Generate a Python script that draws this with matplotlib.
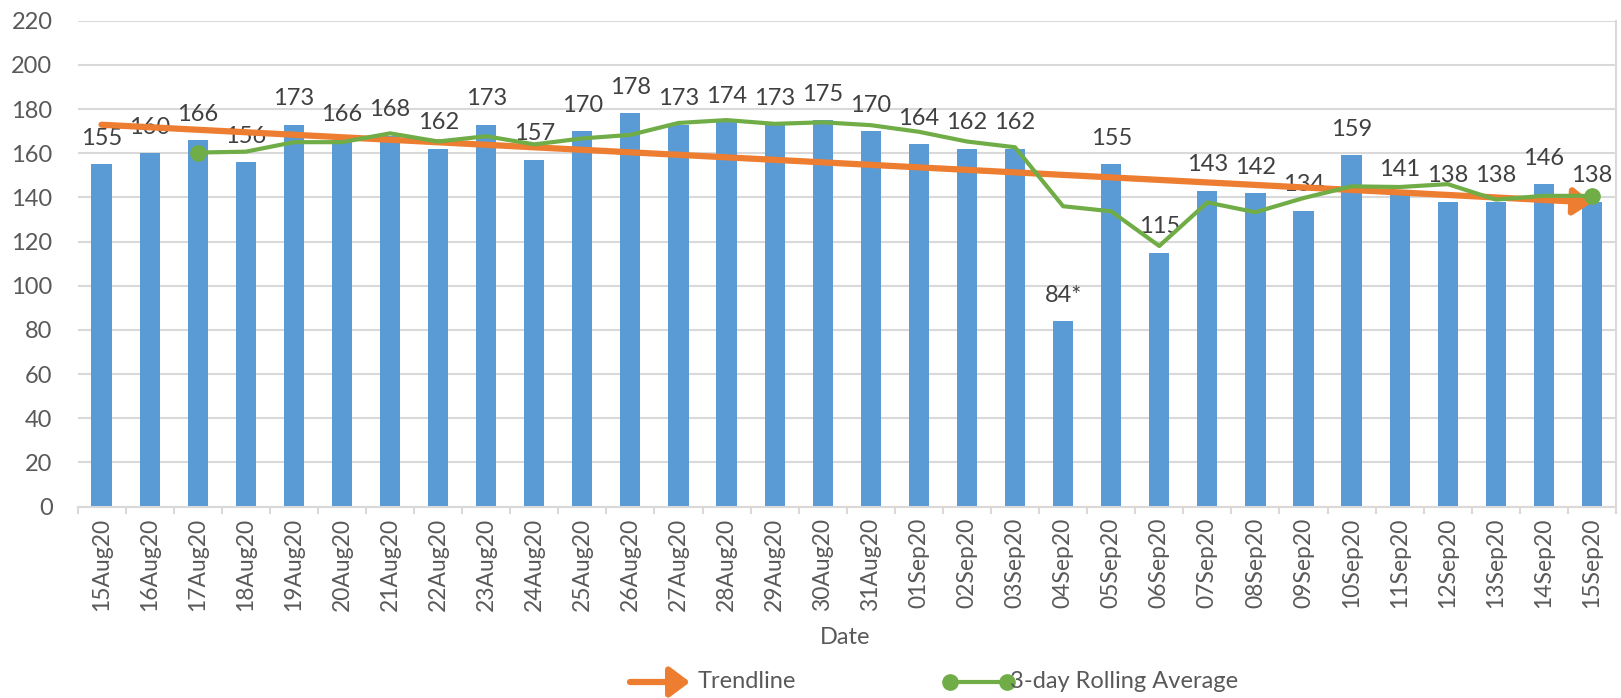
import matplotlib
matplotlib.use("Agg")
import matplotlib.pyplot as plt
from matplotlib.lines import Line2D
import numpy as np

dates = ["15Aug20", "16Aug20", "17Aug20", "18Aug20", "19Aug20", "20Aug20", "21Aug20",
         "22Aug20", "23Aug20", "24Aug20", "25Aug20", "26Aug20", "27Aug20", "28Aug20",
         "29Aug20", "30Aug20", "31Aug20", "01Sep20", "02Sep20", "03Sep20", "04Sep20",
         "05Sep20", "06Sep20", "07Sep20", "08Sep20", "09Sep20", "10Sep20", "11Sep20",
         "12Sep20", "13Sep20", "14Sep20", "15Sep20"]
values = [155, 160, 166, 156, 173, 166, 168, 162, 173, 157, 170, 178, 173, 174, 173, 175,
          170, 164, 162, 162, 84, 155, 115, 143, 142, 134, 159, 141, 138, 138, 146, 138]
value_labels = ["155", "160", "166", "156", "173", "166", "168", "162", "173", "157", "170",
                "178", "173", "174", "173", "175", "170", "164", "162", "162", "84*", "155",
                "115", "143", "142", "134", "159", "141", "138", "138", "146", "138"]
rolling_avg = [np.nan, np.nan, 160.3, 160.7, 165.0, 165.0, 169.0, 165.3, 167.7, 164.0, 166.7,
               168.3, 173.7, 175.0, 173.3, 174.0, 172.7, 169.7, 165.3, 162.7, 136.0, 133.7,
               118.0, 137.7, 133.3, 139.7, 145.0, 144.7, 146.0, 139.0, 140.7, 140.7]
trend_start = 172.9
trend_end = 137.7
y_ticks = [0, 20, 40, 60, 80, 100, 120, 140, 160, 180, 200, 220]

BLUE = "#5B9BD5"
ORANGE = "#ED7D31"
GREEN = "#70AD47"
TXT = "#404040"
AX = "#595959"
GRID = "#D9D9D9"
FS = 17

plt.rcParams['font.family'] = ['Lato', 'DejaVu Sans']

W, H = 1621, 698
fig = plt.figure(figsize=(W / 100, H / 100), dpi=100)
L, R, T, B = 77.5, 1616, 20.7, 506.6
ax = fig.add_axes([L / W, 1 - B / H, (R - L) / W, (B - T) / H])

x = np.arange(len(dates))
ax.bar(x, values, width=0.42, color=BLUE, zorder=2)

ax.set_xlim(-0.5, len(dates) - 0.5)
ax.set_ylim(0, 220)
ax.set_yticks(y_ticks)
ax.set_yticklabels([str(t) for t in y_ticks], fontsize=FS, color=AX)
ax.yaxis.grid(True, color=GRID, lw=1.5, zorder=0)
ax.set_axisbelow(True)
ax.tick_params(axis='y', length=0, pad=18)

ax.set_xticks(x)
ax.set_xticklabels(dates, rotation=90, fontsize=16.5, color=AX)
ax.tick_params(axis='x', which='major', length=0, pad=8)
ax.set_xticks(np.arange(len(dates) + 1) - 0.5, minor=True)
ax.tick_params(axis='x', which='minor', length=5, width=1.5, color=GRID)

for s in ['top', 'left']:
    ax.spines[s].set_visible(False)
ax.spines['bottom'].set_color(GRID)
ax.spines['bottom'].set_linewidth(1.5)
ax.spines['right'].set_color(GRID)
ax.spines['right'].set_linewidth(1.5)

# data labels
for xi, v, lab in zip(x, values, value_labels):
    ax.annotate(lab, (xi, v), xytext=(0, 14), textcoords='offset points',
                ha='center', va='baseline', fontsize=FS, color=TXT, zorder=3)

# trendline arrow
ax.annotate('', xy=(x[-1], trend_end), xytext=(x[0], trend_start),
            arrowprops=dict(arrowstyle='-|>,head_length=0.55,head_width=0.4',
                            color=ORANGE, lw=4.5, shrinkA=0, shrinkB=0,
                            mutation_scale=20),
            zorder=4)

# rolling average
ax.plot(x, rolling_avg, color=GREEN, lw=3, zorder=5,
        marker='o', markersize=11, markevery=[2, len(x) - 1])

# x label
fig.text(845 / W, 1 - 638 / H, "Date", ha='center', va='center', fontsize=FS, color=AX)

# legend (manual)
ly = 1 - 682 / H
fig.add_artist(matplotlib.patches.FancyArrowPatch(
    (630 / W, ly), (690 / W, ly), transform=fig.transFigure,
    arrowstyle='-|>,head_length=0.6,head_width=0.45', mutation_scale=20,
    color=ORANGE, lw=4.5, shrinkA=0, shrinkB=0))
fig.text(698 / W, ly, "Trendline", ha='left', va='center', fontsize=FS, color=AX)
fig.add_artist(Line2D([950 / W, 1007 / W], [ly, ly], transform=fig.transFigure,
                      color=GREEN, lw=3, marker='o', markersize=11))
fig.text(1010 / W, ly, "3-day Rolling Average", ha='left', va='center',
         fontsize=FS, color=AX)

fig.savefig("out.png", dpi=100)
